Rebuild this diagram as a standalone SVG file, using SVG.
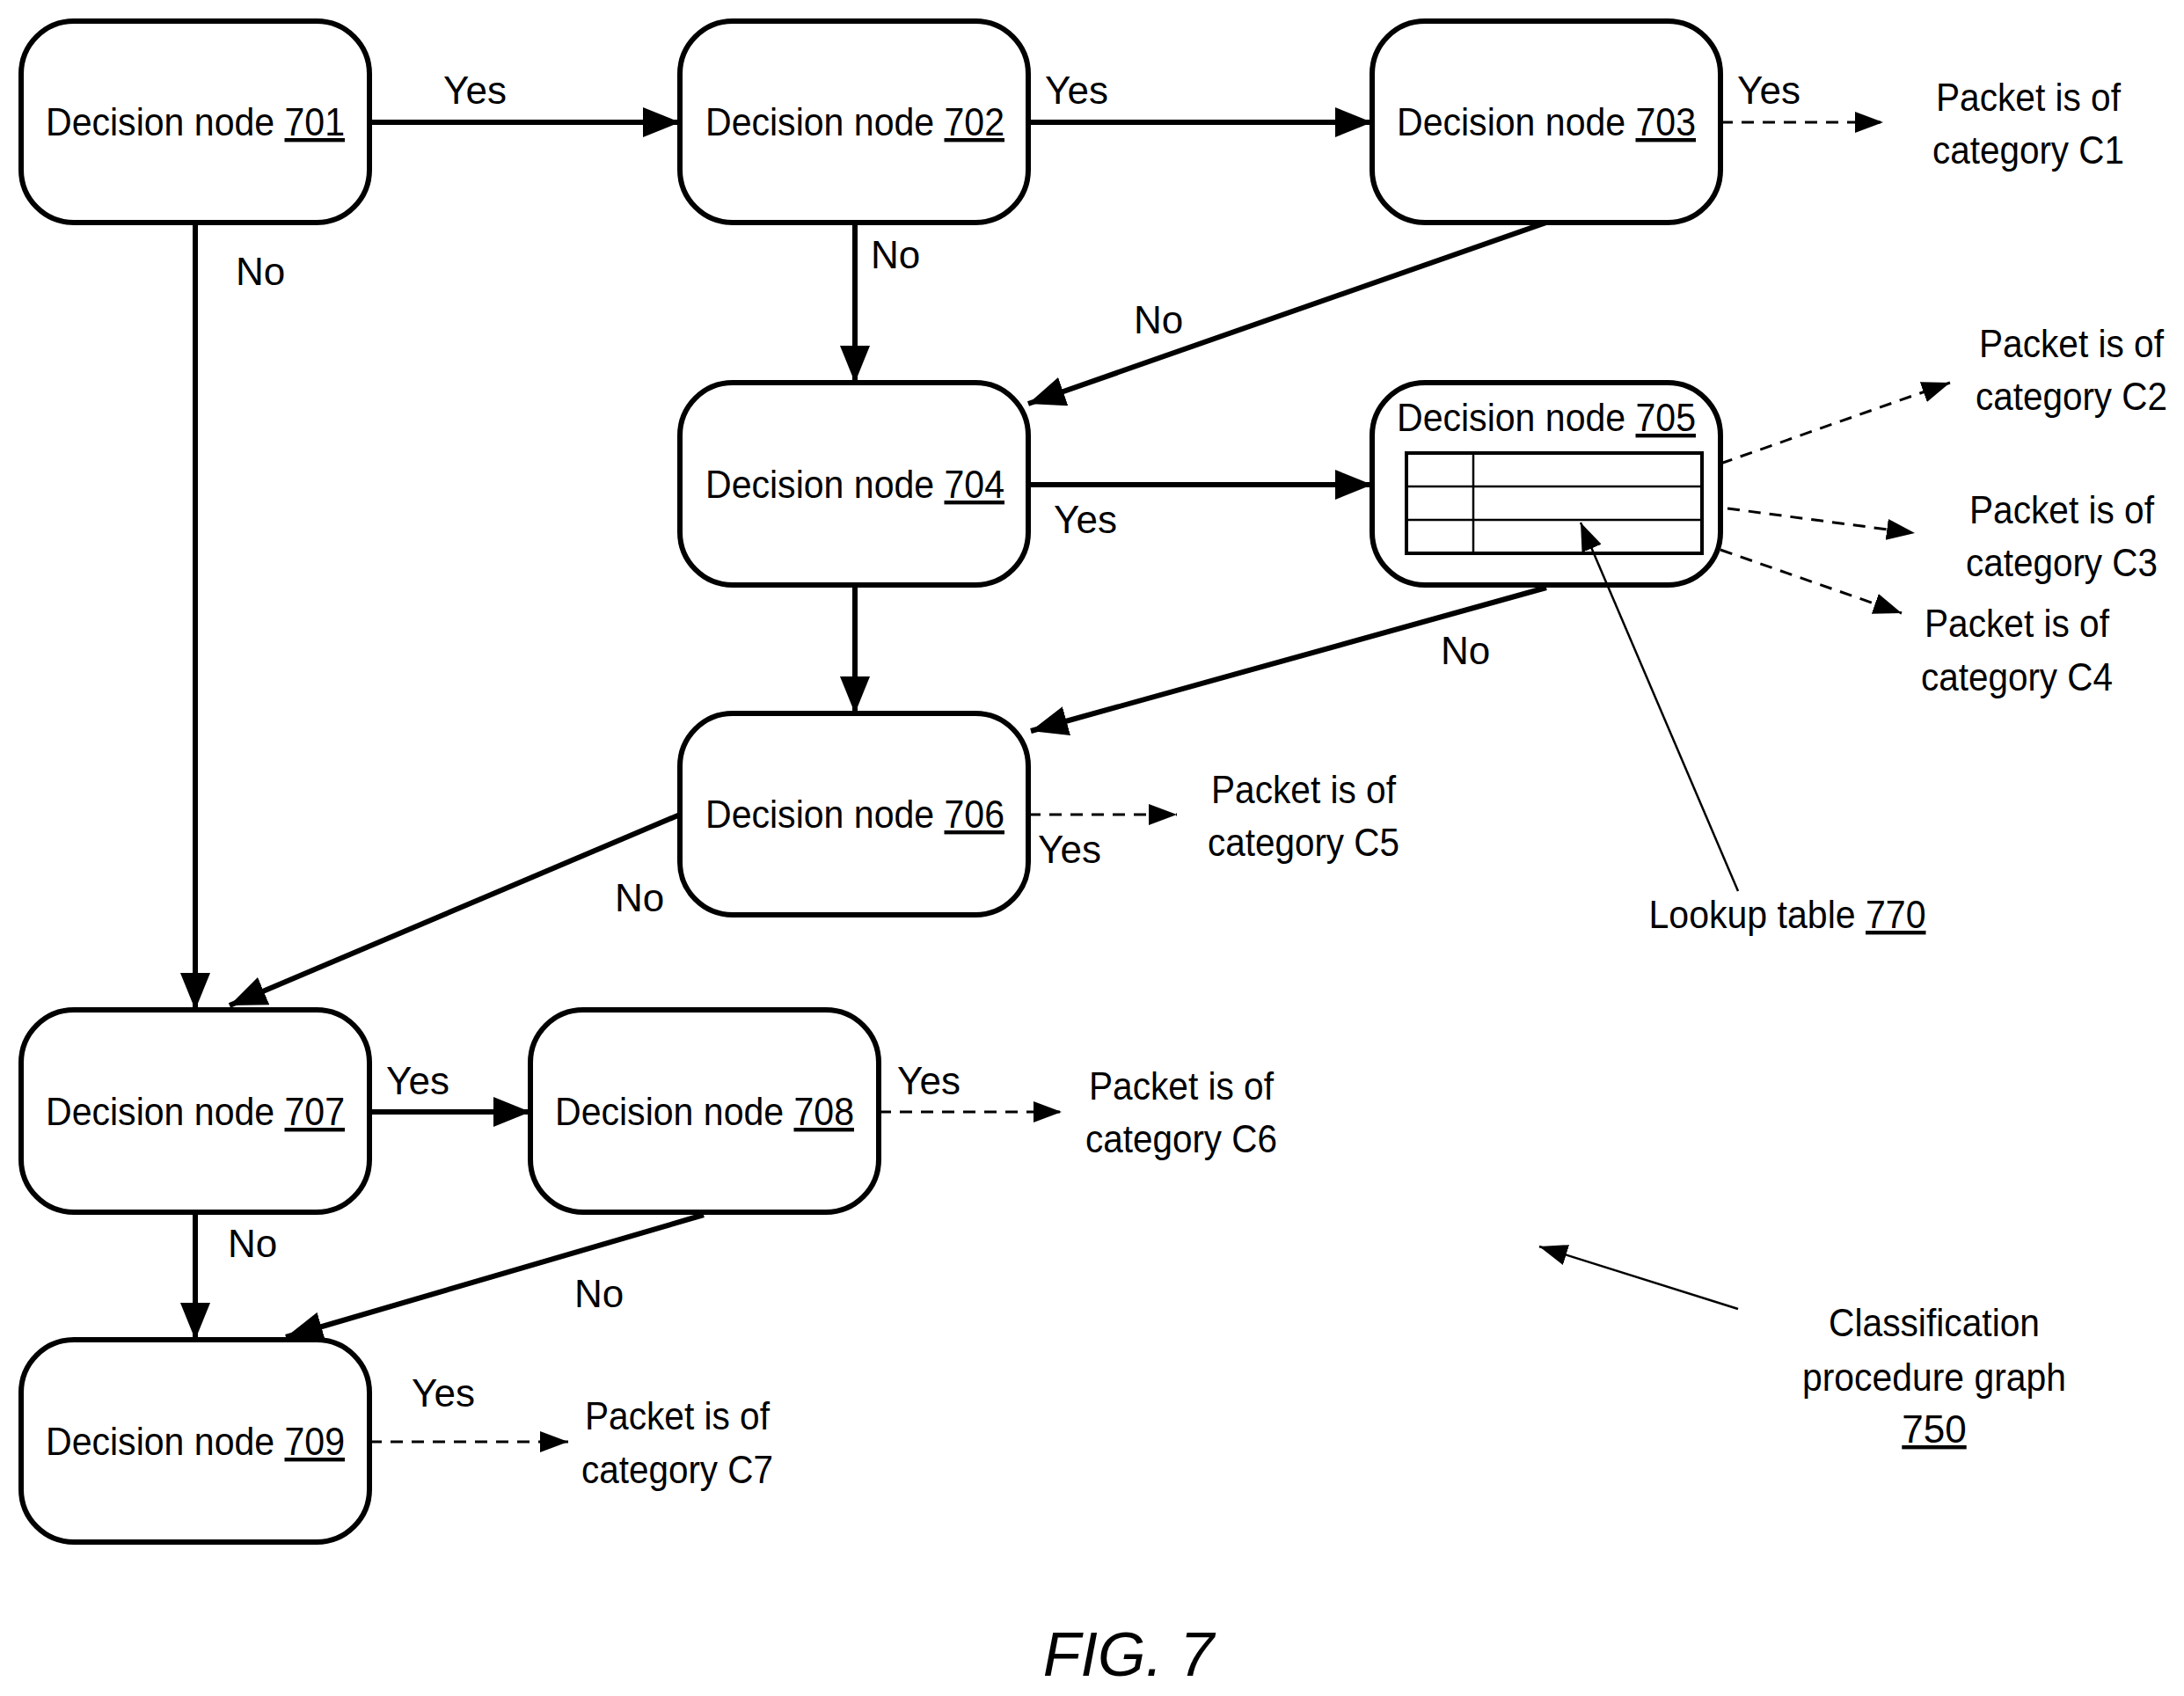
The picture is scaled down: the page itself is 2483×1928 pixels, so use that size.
<svg xmlns="http://www.w3.org/2000/svg" width="2483" height="1928" viewBox="0 0 2483 1928">
<style>
.n{fill:#fff;stroke:#000;stroke-width:6}
.t{font-family:"Liberation Sans",Arial,sans-serif;font-size:44px;fill:#000}
.m{text-anchor:middle}
.s{stroke:#000;stroke-width:6;fill:none;marker-end:url(#a)}
.d{stroke:#000;stroke-width:3;fill:none;stroke-dasharray:14 10;marker-end:url(#b)}
.l{stroke:#000;stroke-width:2.5;fill:none;marker-end:url(#b)}
.u{text-decoration:underline}
</style>
<defs>
<marker id="a" markerUnits="userSpaceOnUse" markerWidth="44" markerHeight="34" refX="42" refY="17" orient="auto"><path d="M0,0 L42,17 L0,34 Z" fill="#000"/></marker>
<marker id="b" markerUnits="userSpaceOnUse" markerWidth="34" markerHeight="24" refX="32" refY="12" orient="auto"><path d="M0,0 L32,12 L0,24 Z" fill="#000"/></marker>
</defs>
<rect width="2483" height="1928" fill="#fff"/>
<g id="connectors">
<line class="s" x1="420" y1="139" x2="773" y2="139"/>
<line class="s" x1="1169" y1="139" x2="1560" y2="139"/>
<line class="d" x1="1956" y1="139" x2="2141" y2="139"/>
<line class="s" x1="222" y1="253" x2="222" y2="1148"/>
<line class="s" x1="972" y1="253" x2="972" y2="435"/>
<line class="s" x1="1758" y1="253" x2="1169" y2="459"/>
<line class="s" x1="1169" y1="551" x2="1560" y2="551"/>
<line class="d" x1="1956" y1="527" x2="2217" y2="435"/>
<line class="d" x1="1964" y1="578" x2="2177" y2="606"/>
<line class="d" x1="1956" y1="625" x2="2162" y2="697"/>
<line class="s" x1="972" y1="665" x2="972" y2="811"/>
<line class="s" x1="1758" y1="668" x2="1172" y2="831"/>
<line class="d" x1="1169" y1="926" x2="1338" y2="926"/>
<line class="s" x1="773" y1="926" x2="261" y2="1143"/>
<line class="s" x1="420" y1="1264" x2="603" y2="1264"/>
<line class="d" x1="999" y1="1264" x2="1207" y2="1264"/>
<line class="s" x1="222" y1="1378" x2="222" y2="1523"/>
<line class="s" x1="800" y1="1381" x2="325" y2="1520"/>
<line class="d" x1="420" y1="1639" x2="646" y2="1639"/>
<line class="l" x1="1976" y1="1488" x2="1750" y2="1417"/>
</g>
<g id="n701"><rect class="n" x="24" y="24" width="396" height="229" rx="60"/><text class="t m" x="222" y="154" textLength="340" lengthAdjust="spacingAndGlyphs">Decision node <tspan class="u">701</tspan></text></g>
<g id="n702"><rect class="n" x="773" y="24" width="396" height="229" rx="60"/><text class="t m" x="972" y="154" textLength="340" lengthAdjust="spacingAndGlyphs">Decision node <tspan class="u">702</tspan></text></g>
<g id="n703"><rect class="n" x="1560" y="24" width="396" height="229" rx="60"/><text class="t m" x="1758" y="154" textLength="340" lengthAdjust="spacingAndGlyphs">Decision node <tspan class="u">703</tspan></text></g>
<g id="n704"><rect class="n" x="773" y="435" width="396" height="230" rx="60"/><text class="t m" x="972" y="566" textLength="340" lengthAdjust="spacingAndGlyphs">Decision node <tspan class="u">704</tspan></text></g>
<g id="n705"><rect class="n" x="1560" y="435" width="396" height="230" rx="60"/><text class="t m" x="1758" y="490" textLength="340" lengthAdjust="spacingAndGlyphs">Decision node <tspan class="u">705</tspan></text>
<rect x="1599" y="515" width="336" height="114" fill="none" stroke="#000" stroke-width="4"/><line x1="1599" y1="553" x2="1935" y2="553" stroke="#000" stroke-width="2.5"/><line x1="1599" y1="591" x2="1935" y2="591" stroke="#000" stroke-width="2.5"/><line x1="1675" y1="515" x2="1675" y2="629" stroke="#000" stroke-width="2.5"/></g>
<g id="n706"><rect class="n" x="773" y="811" width="396" height="229" rx="60"/><text class="t m" x="972" y="941" textLength="340" lengthAdjust="spacingAndGlyphs">Decision node <tspan class="u">706</tspan></text></g>
<g id="n707"><rect class="n" x="24" y="1148" width="396" height="230" rx="60"/><text class="t m" x="222" y="1279" textLength="340" lengthAdjust="spacingAndGlyphs">Decision node <tspan class="u">707</tspan></text></g>
<g id="n708"><rect class="n" x="603" y="1148" width="396" height="230" rx="60"/><text class="t m" x="801" y="1279" textLength="340" lengthAdjust="spacingAndGlyphs">Decision node <tspan class="u">708</tspan></text></g>
<g id="n709"><rect class="n" x="24" y="1523" width="396" height="230" rx="60"/><text class="t m" x="222" y="1654" textLength="340" lengthAdjust="spacingAndGlyphs">Decision node <tspan class="u">709</tspan></text></g>
<g id="leader"><line class="l" x1="1976" y1="1013" x2="1797" y2="594"/></g>
<g id="labels" class="t">
<text class="t m" x="540" y="118">Yes</text>
<text class="t m" x="1224" y="118">Yes</text>
<text class="t m" x="2011" y="118">Yes</text>
<text class="t m" x="296" y="324">No</text>
<text class="t m" x="1018" y="305">No</text>
<text class="t m" x="1317" y="379">No</text>
<text class="t m" x="1234" y="606">Yes</text>
<text class="t m" x="1666" y="755">No</text>
<text class="t m" x="1216" y="981">Yes</text>
<text class="t m" x="727" y="1036">No</text>
<text class="t m" x="475" y="1244">Yes</text>
<text class="t m" x="1056" y="1244">Yes</text>
<text class="t m" x="287" y="1429">No</text>
<text class="t m" x="681" y="1486">No</text>
<text class="t m" x="504" y="1599">Yes</text>
<text class="t m" x="2306" y="126" textLength="210" lengthAdjust="spacingAndGlyphs">Packet is of</text><text class="t m" x="2306" y="186" textLength="218" lengthAdjust="spacingAndGlyphs">category C1</text>
<text class="t m" x="2355" y="406" textLength="210" lengthAdjust="spacingAndGlyphs">Packet is of</text><text class="t m" x="2355" y="466" textLength="218" lengthAdjust="spacingAndGlyphs">category C2</text>
<text class="t m" x="2344" y="595" textLength="210" lengthAdjust="spacingAndGlyphs">Packet is of</text><text class="t m" x="2344" y="655" textLength="218" lengthAdjust="spacingAndGlyphs">category C3</text>
<text class="t m" x="2293" y="724" textLength="210" lengthAdjust="spacingAndGlyphs">Packet is of</text><text class="t m" x="2293" y="785" textLength="218" lengthAdjust="spacingAndGlyphs">category C4</text>
<text class="t m" x="1482" y="913" textLength="210" lengthAdjust="spacingAndGlyphs">Packet is of</text><text class="t m" x="1482" y="973" textLength="218" lengthAdjust="spacingAndGlyphs">category C5</text>
<text class="t m" x="1343" y="1250" textLength="210" lengthAdjust="spacingAndGlyphs">Packet is of</text><text class="t m" x="1343" y="1310" textLength="218" lengthAdjust="spacingAndGlyphs">category C6</text>
<text class="t m" x="770" y="1625" textLength="210" lengthAdjust="spacingAndGlyphs">Packet is of</text><text class="t m" x="770" y="1686" textLength="218" lengthAdjust="spacingAndGlyphs">category C7</text>
<text class="t m" x="2032" y="1055" textLength="315" lengthAdjust="spacingAndGlyphs">Lookup table <tspan class="u">770</tspan></text>
<text class="t m" x="2199" y="1519" textLength="240" lengthAdjust="spacingAndGlyphs">Classification</text><text class="t m" x="2199" y="1581" textLength="300" lengthAdjust="spacingAndGlyphs">procedure graph</text><text class="t m u" x="2199" y="1640">750</text>
<text class="t m" x="1283" y="1905" style="font-size:70px;font-style:italic">FIG. 7</text>
</g>
</svg>
